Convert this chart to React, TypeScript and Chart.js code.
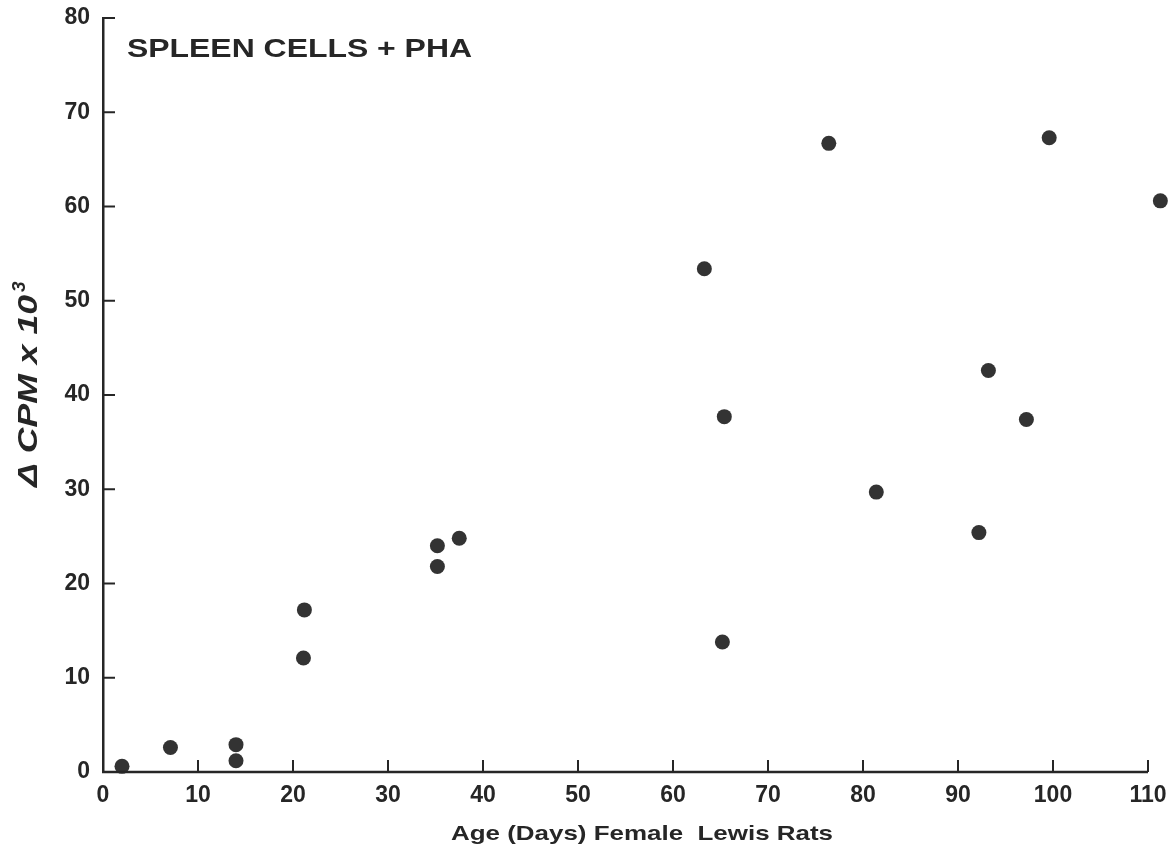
import React, { useEffect, useRef } from "react";
import { Chart, registerables } from "chart.js";

Chart.register(...registerables);

const ageDays = [2.0, 7.1, 14.0, 14.0, 21.2, 21.1, 35.2, 35.2, 37.5, 63.3, 65.4, 65.2, 76.4, 81.4, 92.2, 93.2, 97.2, 99.6, 111.3];
const deltaCpm = [0.6, 2.6, 2.9, 1.2, 17.2, 12.1, 24.0, 21.8, 24.8, 53.4, 37.7, 13.8, 66.7, 29.7, 25.4, 42.6, 37.4, 67.3, 60.6];
const xTicks = [0, 10, 20, 30, 40, 50, 60, 70, 80, 90, 100, 110];
const yTicks = [0, 10, 20, 30, 40, 50, 60, 70, 80];
const chartTitle = "SPLEEN CELLS + PHA";
const xTitle = "Age (Days) Female  Lewis Rats";
const yTitleMain = "Δ CPM x 10";
const yTitleSup = "3";

const INK = "#262626";
const FONT = "'Liberation Sans', Arial, Helvetica, sans-serif";

function drawStretched(ctx: CanvasRenderingContext2D, text: string, x: number, y: number, font: string, targetW: number) {
  ctx.save();
  ctx.font = font;
  const w = ctx.measureText(text).width;
  const s = targetW / w;
  ctx.translate(x, y);
  ctx.scale(s, 1);
  ctx.textAlign = "left";
  ctx.textBaseline = "alphabetic";
  ctx.fillText(text, 0, 0);
  ctx.restore();
}

const decorPlugin = {
  id: "decor",
  afterDraw(chart: any) {
    const ctx: CanvasRenderingContext2D = chart.ctx;
    const xs = chart.scales.x;
    const ys = chart.scales.y;
    const { left, bottom } = chart.chartArea;
    ctx.save();
    ctx.strokeStyle = INK;
    // x axis line from 0 to 110
    ctx.lineWidth = 2.5;
    ctx.beginPath();
    ctx.moveTo(xs.getPixelForValue(0) - 1, bottom);
    ctx.lineTo(xs.getPixelForValue(xTicks[xTicks.length - 1]), bottom);
    ctx.stroke();
    // inward ticks
    ctx.lineWidth = 2;
    xTicks.forEach((v) => {
      if (v === 0) return;
      const px = xs.getPixelForValue(v);
      ctx.beginPath();
      ctx.moveTo(px, bottom);
      ctx.lineTo(px, bottom - 12);
      ctx.stroke();
    });
    yTicks.forEach((v) => {
      if (v === 0) return;
      const py = ys.getPixelForValue(v);
      ctx.beginPath();
      ctx.moveTo(left, py);
      ctx.lineTo(left + 12, py);
      ctx.stroke();
    });
    ctx.fillStyle = INK;
    // chart title inside plot
    drawStretched(ctx, chartTitle, 127, 57, `bold 25px ${FONT}`, 345);
    // x axis title
    drawStretched(ctx, xTitle, 451, 840, `bold 21px ${FONT}`, 382);
    // y axis title (rotated)
    ctx.save();
    ctx.translate(37, 487);
    ctx.rotate(-Math.PI / 2);
    const mainFont = `italic bold 27px ${FONT}`;
    ctx.font = mainFont;
    const mw = ctx.measureText(yTitleMain).width;
    const targetMain = 192;
    const s = targetMain / mw;
    ctx.save();
    ctx.scale(s, 1);
    ctx.fillText(yTitleMain, 0, 0);
    ctx.restore();
    ctx.font = `italic bold 19px ${FONT}`;
    ctx.fillText(yTitleSup, targetMain + 3, -12);
    ctx.restore();
    ctx.restore();
  },
};

export default function App() {
  const ref = useRef<HTMLCanvasElement | null>(null);
  useEffect(() => {
    document.body.style.margin = "0";
    const canvas = ref.current!;
    const chart = new Chart(canvas, {
      type: "scatter",
      data: {
        datasets: [
          {
            data: ageDays.map((a, i) => ({ x: a, y: deltaCpm[i] })),
            backgroundColor: "#333333",
            borderWidth: 0,
            pointRadius: 7.5,
            pointHoverRadius: 7.5,
            clip: false as any,
          },
        ],
      },
      options: {
        animation: false,
        responsive: false,
        devicePixelRatio: 1,
        events: [],
        layout: { padding: { left: 0, right: 9, top: 18, bottom: 0 } },
        plugins: { legend: { display: false }, tooltip: { enabled: false }, title: { display: false } },
        scales: {
          x: {
            type: "linear",
            min: 0,
            max: 112,
            afterBuildTicks: (scale: any) => {
              scale.ticks = xTicks.map((v) => ({ value: v }));
            },
            afterFit: (scale: any) => {
              scale.height = 80;
              scale.paddingLeft = 0;
              scale.paddingRight = 0;
            },
            grid: { display: false, drawTicks: false },
            border: { display: false },
            ticks: {
              color: INK,
              font: { family: FONT, size: 23, weight: "bold" },
              padding: 10,
              maxRotation: 0,
              autoSkip: false,
            },
          },
          y: {
            type: "linear",
            min: 0,
            max: 80,
            afterBuildTicks: (scale: any) => {
              scale.ticks = yTicks.map((v) => ({ value: v }));
            },
            afterFit: (scale: any) => {
              scale.width = 103;
              scale.paddingTop = 0;
              scale.paddingBottom = 0;
            },
            grid: { display: false, drawTicks: false },
            border: { display: true, color: INK, width: 2.5 },
            ticks: {
              color: INK,
              font: { family: FONT, size: 23, weight: "bold" },
              padding: 13,
              autoSkip: false,
            },
          },
        },
      },
      plugins: [decorPlugin],
    });
    return () => chart.destroy();
  }, []);
  return (
    <div style={{ position: "absolute", left: 0, top: 0, width: 1176, height: 852, background: "#fff" }}>
      <canvas ref={ref} width={1176} height={852} style={{ display: "block", width: 1176, height: 852 }} />
    </div>
  );
}
